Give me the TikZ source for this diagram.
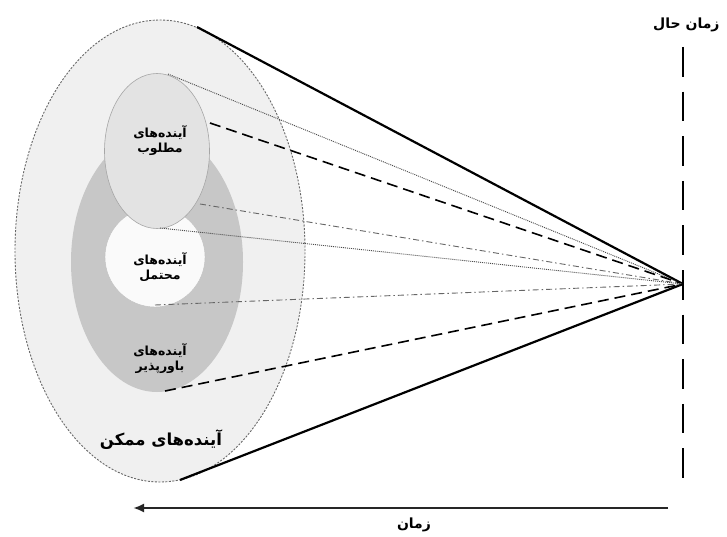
\documentclass[tikz,border=0pt]{standalone}
\usepackage{fontspec}
\TeXXeTstate=1
\newfontfamily\fa[Script=Arabic]{DejaVu Sans}
\usetikzlibrary{shapes.geometric,arrows.meta}
\begin{document}
\begin{tikzpicture}[x=1pt,y=-1pt,
  ell/.style={ellipse,inner sep=0pt,outer sep=0pt},
  outerell/.style={ell,draw=black!60,dash pattern=on 2pt off 1.5pt,line width=0.9pt,fill=black!6},
  darkell/.style={ell,fill=black!22},
  whiteell/.style={ell,fill=black!2,draw=black!25,line width=0.4pt},
  topell/.style={ell,fill=black!11,draw=black!35,line width=0.6pt},
  solidray/.style={line width=2.2pt,black},
  dotray/.style={line width=0.9pt,black!70,dash pattern=on 1pt off 1pt},
  dashray/.style={line width=1.6pt,black,dash pattern=on 11pt off 6pt},
  dashdotray/.style={line width=0.9pt,black!60,dash pattern=on 6pt off 3pt on 1.5pt off 3pt},
  nowline/.style={line width=2.2pt,black,dash pattern=on 29.6pt off 15pt},
  timearrow/.style={line width=2.2pt,black!85,-{Latex[length=11pt,width=9pt]}},
  lab/.style={font=\fa\bfseries\fontsize{12.5}{15}\selectfont,align=center,inner sep=0pt},
  biglab/.style={font=\fa\bfseries\fontsize{16.5}{19}\selectfont,inner sep=0pt},
  tlab/.style={font=\fa\bfseries\fontsize{14}{16}\selectfont,inner sep=0pt}
]
\useasboundingbox (0,0) rectangle (727,537);
\fill[white] (0,0) rectangle (727,537);

% ellipses
\node[outerell,minimum width=290pt,minimum height=462pt] (outer) at (160,251) {};
\node[darkell,minimum width=172pt,minimum height=260pt] (dark) at (157,262) {};
\node[whiteell,minimum width=100pt,minimum height=100pt] (mid) at (155,257) {};
\node[topell,minimum width=105pt,minimum height=155pt] (top) at (157,151) {};

% labels
\node[lab] (ltop) at (160,141) {\beginR آینده‌های\endR\\\beginR مطلوب\endR};
\node[lab] (lmid) at (160,267) {\beginR آینده‌های\endR\\\beginR محتمل\endR};
\node[lab] (ldark) at (160,359) {\beginR آینده‌های\endR\\\beginR باورپذیر\endR};
\node[biglab] (lout) at (161,440) {\beginR آینده‌های ممکن\endR};

% apex and ray endpoints
\coordinate (apex) at (683,284);
\coordinate (oT) at (197,27);
\coordinate (oB) at (180,480);
\coordinate (tT) at (168,74);
\coordinate (tR) at (210,123);
\coordinate (tLR) at (200,204);
\coordinate (tB) at (160,228);
\coordinate (mB) at (155,305);
\coordinate (dB) at (165,391);

\draw[solidray] (oT) -- (apex);
\draw[solidray] (oB) -- (apex);
\draw[dotray] (tT) -- (apex);
\draw[dashray] (tR) -- (apex);
\draw[dashdotray] (tLR) -- (apex);
\draw[dotray] (tB) -- (apex);
\draw[dashdotray] (mB) -- (apex);
\draw[dashray] (dB) -- (apex);

% present time line
\coordinate (nowT) at (683,47);
\coordinate (nowB) at (683,478);
\draw[nowline] (nowT) -- (nowB);
\node[tlab,anchor=west] (lnow) at (653,25) {\beginR زمان حال\endR};

% time arrow
\coordinate (arR) at (668,508);
\coordinate (arL) at (133,508);
\draw[timearrow] (arR) -- (arL);
\node[tlab] (ltime) at (414,525) {\beginR زمان\endR};
\end{tikzpicture}
\end{document}
